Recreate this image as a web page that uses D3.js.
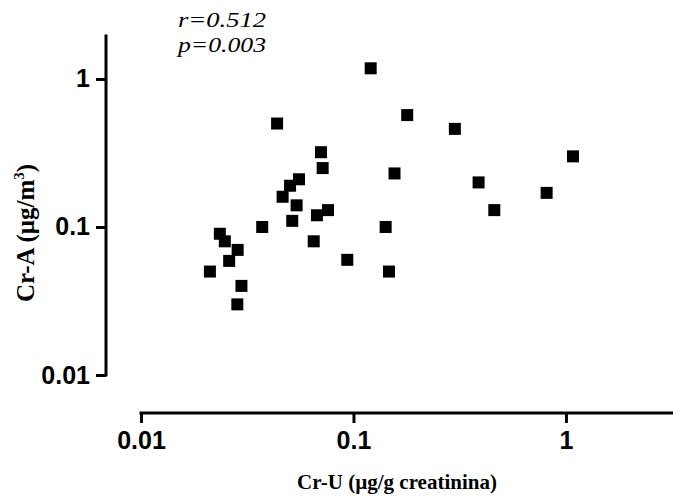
<!DOCTYPE html>
<html>
<head>
<meta charset="utf-8">
<script src="https://cdn.jsdelivr.net/npm/d3@7"></script>
<style>
  html, body { margin: 0; padding: 0; background: #fff; }
  svg { display: block; }
</style>
</head>
<body>
<script>
// Data
const crU = [0.0211, 0.0235, 0.0248, 0.0260, 0.0285, 0.0297, 0.0284, 0.0372, 0.0437, 0.0464,
             0.0503, 0.0540, 0.0554, 0.0515, 0.0703, 0.0716, 0.0673, 0.0759, 0.0650, 0.0935,
             0.1205, 0.179, 0.300, 1.079, 0.156, 0.388, 0.811, 0.460, 0.1417, 0.1469];
const crA = [0.050, 0.090, 0.080, 0.059, 0.070, 0.040, 0.030, 0.100, 0.50, 0.16,
             0.19, 0.14, 0.21, 0.11, 0.32, 0.25, 0.12, 0.13, 0.08, 0.06,
             1.18, 0.57, 0.46, 0.30, 0.23, 0.20, 0.17, 0.13, 0.10, 0.05];
const xTicks = [0.01, 0.1, 1];
const yTicks = [0.01, 0.1, 1];
const xTickLabels = ["0.01", "0.1", "1"];
const yTickLabels = ["0.01", "0.1", "1"];
const xDomain = [0.01, 3.19];
const yDomain = [0.01, 2];
const xTitle = "Cr-U (µg/g creatinina)";
const yTitleMain = "Cr-A (μg/m";
const yTitleSup = "3";
const statLines = ["r=0.512", "p=0.003"];

const W = 673, H = 501;
const svg = d3.select("body").append("svg").attr("width", W).attr("height", H);

const x = d3.scaleLog().domain(xDomain).range([141, 673]);
const y = d3.scaleLog().domain(yDomain).range([375, 34.4]);

const tickFont = "'Liberation Sans', Arial, sans-serif";
const serif = "'Liberation Serif', 'Times New Roman', serif";

// Y axis
const yAxis = d3.axisLeft(y).tickValues(yTicks)
  .tickFormat((d, i) => yTickLabels[i]).tickSize(10).tickPadding(6).tickSizeOuter(0);
const gy = svg.append("g").attr("transform", "translate(106,0)").call(yAxis);
gy.select(".domain").attr("stroke", "#000").attr("stroke-width", 3)
  .attr("d", `M0,${y(yDomain[1])}V${y(yDomain[0]) + 1.5}`);
gy.selectAll(".tick line").attr("stroke", "#000").attr("stroke-width", 3);
gy.selectAll(".tick text").attr("font-family", tickFont).attr("font-weight", "bold")
  .attr("font-size", 25).attr("fill", "#000");

// X axis
const xAxis = d3.axisBottom(x).tickValues(xTicks)
  .tickFormat((d, i) => xTickLabels[i]).tickSize(10).tickPadding(8).tickSizeOuter(0);
const gx = svg.append("g").attr("transform", "translate(0,413)").call(xAxis);
gx.select(".domain").attr("stroke", "#000").attr("stroke-width", 3)
  .attr("d", `M${x(xDomain[0]) - 1.5},0H${x(xDomain[1])}`);
gx.selectAll(".tick line").attr("stroke", "#000").attr("stroke-width", 3);
gx.selectAll(".tick text").attr("font-family", tickFont).attr("font-weight", "bold")
  .attr("font-size", 25).attr("fill", "#000");

// Points
const pts = crU.map((v, i) => ({ u: v, a: crA[i] }));
const s = 12;
svg.append("g").selectAll("rect").data(pts).join("rect")
  .attr("x", d => x(d.u) - s / 2).attr("y", d => y(d.a) - s / 2)
  .attr("width", s).attr("height", s).attr("fill", "#000");

// Axis titles
svg.append("text").attr("x", 397).attr("y", 489).attr("text-anchor", "middle")
  .attr("font-family", serif).attr("font-weight", "bold").attr("font-size", 21)
  .text(xTitle);

const yt = svg.append("text").attr("transform", "translate(34,233) rotate(-90)")
  .attr("text-anchor", "middle").attr("font-family", serif).attr("font-weight", "bold")
  .attr("font-size", 25);
yt.append("tspan").text(yTitleMain);
yt.append("tspan").attr("font-size", 15).attr("dy", -10).text(yTitleSup);
yt.append("tspan").attr("dy", 10).text(")");

// Stats annotation
svg.append("g").selectAll("text").data(statLines).join("text")
  .attr("x", 178).attr("y", (d, i) => 27 + i * 24.5)
  .attr("font-family", serif).attr("font-style", "italic").attr("font-size", 22)
  .attr("textLength", 88).attr("lengthAdjust", "spacingAndGlyphs")
  .text(d => d);
</script>
</body>
</html>
